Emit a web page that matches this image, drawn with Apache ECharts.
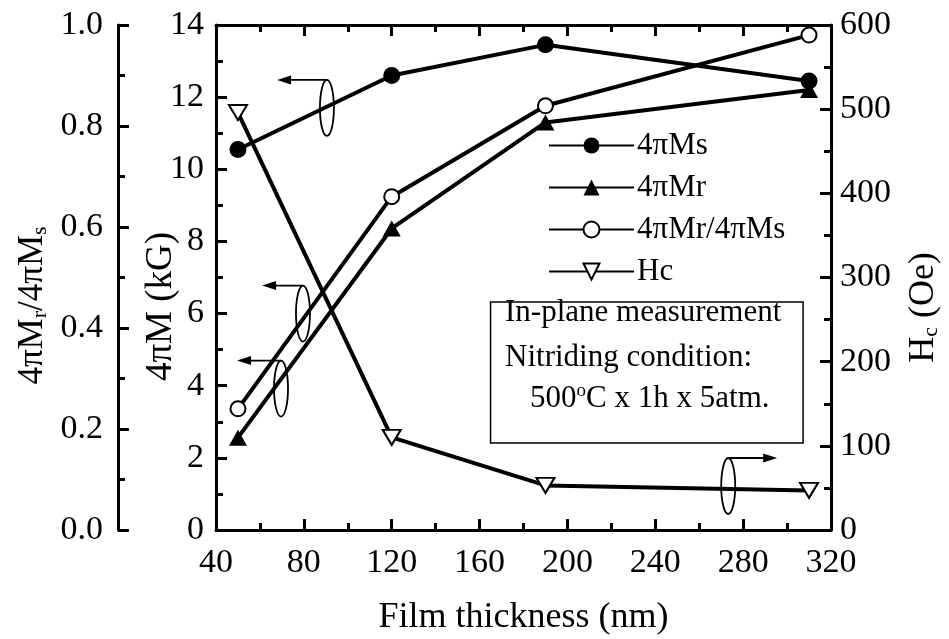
<!DOCTYPE html>
<html>
<head>
<meta charset="utf-8">
<title>Film thickness</title>
<script src="https://cdn.jsdelivr.net/npm/echarts@6/dist/echarts.min.js"></script>
<style>
    html, body { margin: 0; padding: 0; background: #fff; }
    #chart { width: 949px; height: 639px; }
</style>
</head>
<body>
<div id="chart"></div>
<script>
// 数据
var thickness = [50, 120, 190, 310];
var msData = [10.55, 12.6, 13.45, 12.45];
var mrData = [2.56, 8.36, 11.3, 12.2];
var ratioData = [0.24, 0.66, 0.84, 0.98];
var hcData = [496, 110, 53, 47];
var seriesNames = ['4πMs', '4πMr', '4πMr/4πMs', 'Hc'];
var noteLines = ['In-plane measurement', 'Nitriding condition:', '500{sup|o}C x 1h x 5atm.'];

var FONT = "'Liberation Serif', 'DejaVu Serif', serif";
var myChart;

function pairs(xs, ys) {
    var arr = [];
    for (var i = 0; i < xs.length; i++) {
        arr.push([xs[i], ys[i]]);
    }
    return arr;
}

function yAxisBase(min, max, interval, fmt) {
    return {
        type: 'value',
        min: min,
        max: max,
        interval: interval,
        axisLine: { show: true, lineStyle: { color: '#000', width: 3 } },
        axisTick: { show: true, inside: true, length: 11, lineStyle: { color: '#000', width: 3 } },
        minorTick: { show: true, splitNumber: 2, length: 7, lineStyle: { color: '#000', width: 3 } },
        splitLine: { show: false },
        axisLabel: { color: '#000', fontSize: 34, fontFamily: FONT, margin: 12, formatter: fmt },
        nameLocation: 'middle',
        nameRotate: 90,
        nameMoveOverlap: false,
        nameTextStyle: {
            color: '#000', fontSize: 35, fontFamily: FONT,
            rich: {
                a: { fontSize: 35, fontFamily: FONT, color: '#000' },
                sub: { fontSize: 22, fontFamily: FONT, color: '#000', padding: [15, 0, 0, 0] }
            }
        }
    };
}

window.onload = function () {
    myChart = echarts.init(document.getElementById('chart'));

    var yLeft = yAxisBase(0, 14, 2);
    yLeft.position = 'left';
    yLeft.name = '{a|4πM (kG)}';
    yLeft.nameGap = 36;
    yLeft.nameTextStyle.rich.a.fontSize = 37;
    yLeft.nameTextStyle.padding = [0, 58, 0, 0];

    var yRight = yAxisBase(0, 600, 100);
    yRight.position = 'right';
    yRight.axisLabel.margin = 9;
    yRight.name = '{a|H}{sub|c}{a| (Oe)}';
    yRight.nameGap = 74;
    yRight.nameTextStyle.rich.a.fontSize = 36;
    yRight.nameTextStyle.padding = [0, 60, 0, 0];

    var yOuter = yAxisBase(0, 1, 0.2, function (v) { return v.toFixed(1); });
    yOuter.position = 'left';
    yOuter.offset = 98;
    yOuter.axisLabel.margin = 15;
    yOuter.name = '{a|4πM}{sub|r}{a|/4πM}{sub|s}';
    yOuter.nameGap = 67;
    yOuter.nameTextStyle.padding = [0, 56, 0, 0];

    var option = {
        backgroundColor: '#fff',
        animation: false,
        grid: { left: 216, right: 118, top: 25, bottom: 109, outerBoundsMode: 'none' },
        legend: {
            data: seriesNames,
            orient: 'vertical',
            left: 548,
            top: 130,
            padding: 0,
            itemWidth: 85,
            itemHeight: 20,
            itemGap: 11,
            textStyle: { color: '#000', fontSize: 31, fontFamily: FONT, padding: [0, 0, 0, -2] }
        },
        xAxis: [{
            type: 'value',
            min: 40,
            max: 320,
            interval: 40,
            name: 'Film thickness (nm)',
            nameLocation: 'middle',
            nameGap: 70,
            nameMoveOverlap: false,
            nameTextStyle: { color: '#000', fontSize: 36, fontFamily: FONT },
            axisLine: { show: true, onZero: false, lineStyle: { color: '#000', width: 3 } },
            axisTick: { show: true, inside: true, length: 11, lineStyle: { color: '#000', width: 3 } },
            minorTick: { show: true, splitNumber: 2, length: 7, lineStyle: { color: '#000', width: 3 } },
            splitLine: { show: false },
            axisLabel: { color: '#000', fontSize: 34, fontFamily: FONT, margin: 16 }
        }, {
            type: 'value',
            position: 'top',
            min: 40,
            max: 320,
            interval: 40,
            axisLine: { show: true, onZero: false, lineStyle: { color: '#000', width: 3 } },
            axisTick: { show: true, inside: true, length: 11, lineStyle: { color: '#000', width: 3 } },
            minorTick: { show: true, splitNumber: 2, length: 7, lineStyle: { color: '#000', width: 3 } },
            splitLine: { show: false },
            axisLabel: { show: false }
        }],
        yAxis: [yLeft, yRight, yOuter],
        series: [{
            name: seriesNames[0],
            type: 'line',
            yAxisIndex: 0,
            symbol: 'circle',
            symbolSize: 17,
            itemStyle: { color: '#000' },
            lineStyle: { color: '#000', width: 4 },
            data: pairs(thickness, msData)
        }, {
            name: seriesNames[1],
            type: 'line',
            yAxisIndex: 0,
            symbol: 'triangle',
            symbolSize: [18, 16],
            itemStyle: { color: '#000' },
            lineStyle: { color: '#000', width: 4 },
            data: pairs(thickness, mrData)
        }, {
            name: seriesNames[2],
            type: 'line',
            yAxisIndex: 2,
            symbol: 'circle',
            symbolSize: 15,
            itemStyle: { color: '#fff', borderColor: '#000', borderWidth: 2 },
            lineStyle: { color: '#000', width: 4 },
            data: pairs(thickness, ratioData)
        }, {
            name: seriesNames[3],
            type: 'line',
            yAxisIndex: 1,
            symbol: 'triangle',
            symbolRotate: 180,
            symbolSize: [18, 15],
            itemStyle: { color: '#fff', borderColor: '#000', borderWidth: 2 },
            lineStyle: { color: '#000', width: 4 },
            data: pairs(thickness, hcData)
        }]
    };

    myChart.setOption(option);
    drawNotes();
};

// 椭圆、箭头和说明框
function drawNotes() {
    var p = function (x, y) {
        return myChart.convertToPixel({ xAxisIndex: 0, yAxisIndex: 0 }, [x, y]);
    };
    var els = [];
    var marks = [
        { c: [90.5, 11.7], tip: 67.8 },
        { c: [79.6, 6.0], tip: 61 },
        { c: [69.6, 3.92], tip: 49.6 },
        { c: [273.2, 1.22], tip: 295.5 }
    ];
    for (var i = 0; i < marks.length; i++) {
        var c = p(marks[i].c[0], marks[i].c[1]);
        var t = p(marks[i].tip, marks[i].c[1]);
        var top = c[1] - 28;
        var dir = t[0] < c[0] ? 1 : -1;
        els.push({ type: 'ellipse', z: 10, shape: { cx: c[0], cy: c[1], rx: 7, ry: 28 },
            style: { fill: null, stroke: '#000', lineWidth: 1.8 } });
        els.push({ type: 'line', z: 10, shape: { x1: c[0], y1: top, x2: t[0] + dir * 6, y2: top },
            style: { stroke: '#000', lineWidth: 1.8 } });
        els.push({ type: 'polygon', z: 10, shape: { points: [[t[0], top], [t[0] + dir * 14, top - 4.5], [t[0] + dir * 14, top + 4.5]] },
            style: { fill: '#000' } });
    }

    var a = p(165, 6.32);
    var b = p(307.3, 2.41);
    els.push({ type: 'rect', z: 10, shape: { x: a[0], y: a[1], width: b[0] - a[0], height: b[1] - a[1] },
        style: { fill: '#fff', stroke: '#000', lineWidth: 1.5 } });
    var rows = [[171.6, 6.02], [171.6, 4.77], [183, 3.63]];
    for (var j = 0; j < noteLines.length; j++) {
        var q = p(rows[j][0], rows[j][1]);
        els.push({ type: 'text', z: 11, x: q[0], y: q[1],
            style: { text: noteLines[j], fill: '#000', fontSize: 31, fontFamily: FONT, verticalAlign: 'middle',
                rich: { sup: { fontSize: 19, fontFamily: FONT, fill: '#000', padding: [0, 0, 16, 0] } } } });
    }

    myChart.setOption({ graphic: els });
}
</script>
</body>
</html>
